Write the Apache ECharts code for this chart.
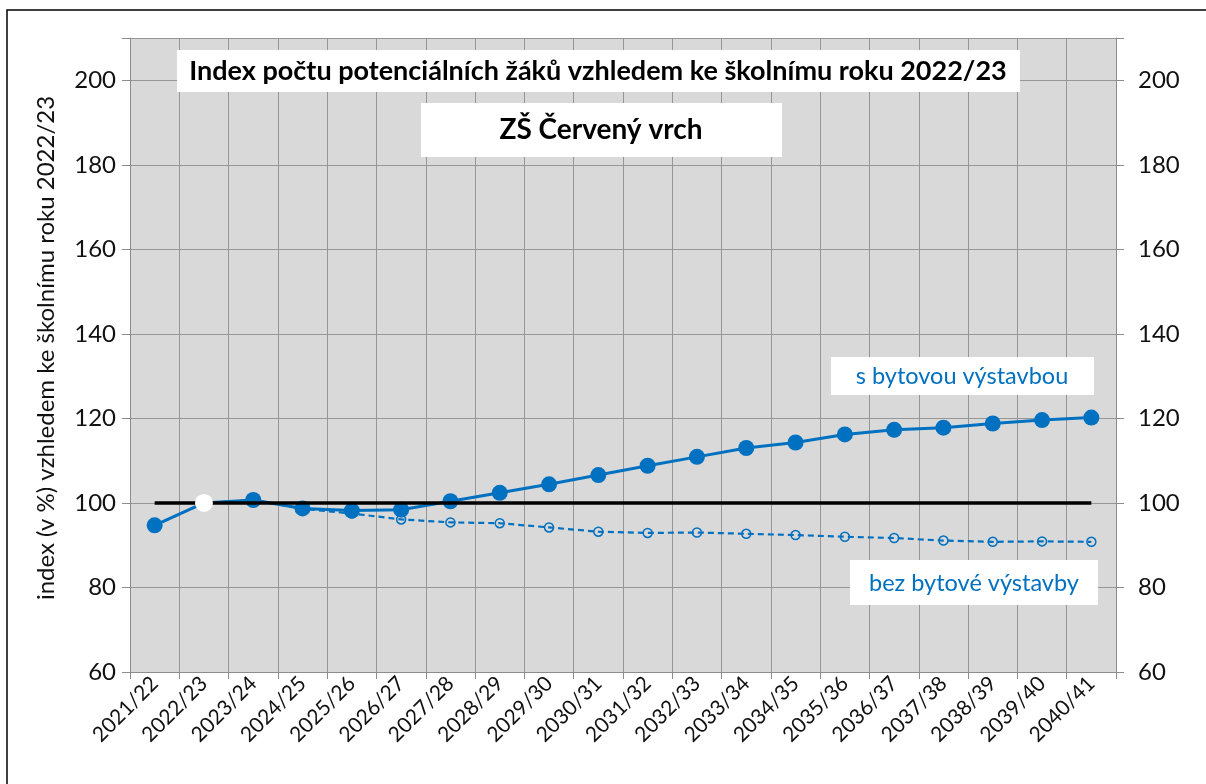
<!DOCTYPE html>
<html>
<head>
<meta charset="utf-8">
<script src="https://cdn.jsdelivr.net/npm/echarts@6/dist/echarts.min.js"></script>
<style>
html,body{margin:0;padding:0;background:#fff;}
#chart{width:1206px;height:784px;}
</style>
</head>
<body>
<div id="chart"></div>
<script>
// ---------------- data ----------------
var roky = ['2021/22','2022/23','2023/24','2024/25','2025/26','2026/27','2027/28','2028/29','2029/30','2030/31',
            '2031/32','2032/33','2033/34','2034/35','2035/36','2036/37','2037/38','2038/39','2039/40','2040/41'];
var sVystavbou = [94.7, 100, 100.7, 98.7, 98.2, 98.4, 100.4, 102.4, 104.4, 106.6,
                  108.8, 110.9, 113.0, 114.3, 116.2, 117.3, 117.8, 118.8, 119.6, 120.2];
var bezVystavby = [94.7, 100, 100.7, 98.6, 97.5, 96.1, 95.4, 95.2, 94.2, 93.2,
                   92.9, 93.0, 92.7, 92.4, 92.0, 91.7, 91.1, 90.8, 90.9, 90.8];
var zaklad = [100,100,100,100,100,100,100,100,100,100,100,100,100,100,100,100,100,100,100,100];
var bazovyRok = [['2022/23', 100]];

var modra = '#0070C0';
var font = 'Lato';

var dom = document.getElementById('chart');
var myChart = echarts.init(dom);

var yAxisBase = {
    type: 'value',
    min: 60,
    max: 210,
    interval: 20,
    axisLine: {show: true, lineStyle: {color: '#8c8c8c', width: 1}},
    axisTick: {show: true, length: 8, lineStyle: {color: '#8c8c8c'}},
    axisLabel: {
        fontFamily: font, fontSize: 24, color: '#111', margin: 14,
        formatter: function (v) { return v > 200 ? '' : v; }
    }
};

var option = {
    backgroundColor: '#fff',
    animation: false,
    grid: {
        left: 130, right: 90, top: 38, bottom: 112,
        show: true, backgroundColor: '#D9D9D9', borderWidth: 0
    },
    graphic: [
        // ramecek
        {type: 'rect', shape: {x: 7, y: 10, width: 1230, height: 800},
         style: {fill: 'none', stroke: '#000', lineWidth: 1.5}, silent: true},
        // nadpis
        {type: 'rect', shape: {x: 177, y: 50, width: 843, height: 42},
         style: {fill: '#fff'}, z: 10},
        {type: 'text', x: 598, y: 71, z: 11,
         style: {text: 'Index počtu potenciálních žáků vzhledem ke školnímu roku 2022/23',
                 fontFamily: font, fontWeight: 'bold', fontSize: 27, fill: '#000',
                 align: 'center', verticalAlign: 'middle'}},
        {type: 'rect', shape: {x: 421, y: 103, width: 361, height: 54},
         style: {fill: '#fff'}, z: 10},
        {type: 'text', x: 601, y: 130, z: 11,
         style: {text: 'ZŠ Červený vrch', fontFamily: font, fontWeight: 'bold', fontSize: 28,
                 fill: '#000', align: 'center', verticalAlign: 'middle'}},
        // popisky rad
        {type: 'rect', shape: {x: 831, y: 357, width: 263, height: 38},
         style: {fill: '#fff'}, z: 10},
        {type: 'text', x: 962, y: 376, z: 11,
         style: {text: 's bytovou výstavbou', fontFamily: font, fontSize: 23.5, fill: modra,
                 align: 'center', verticalAlign: 'middle'}},
        {type: 'rect', shape: {x: 850, y: 560, width: 248, height: 45},
         style: {fill: '#fff'}, z: 10},
        {type: 'text', x: 974, y: 583, z: 11,
         style: {text: 'bez bytové výstavby', fontFamily: font, fontSize: 23.5, fill: modra,
                 align: 'center', verticalAlign: 'middle'}}
    ],
    xAxis: {
        type: 'category',
        data: roky,
        boundaryGap: true,
        axisLine: {show: true, lineStyle: {color: '#8c8c8c', width: 1}},
        axisTick: {show: true, length: 7, lineStyle: {color: '#8c8c8c'}},
        splitLine: {show: true, lineStyle: {color: '#969696', width: 1}},
        axisLabel: {interval: 0, rotate: 45, fontFamily: font, fontSize: 21, color: '#111', margin: 8}
    },
    yAxis: [
        Object.assign({}, yAxisBase, {
            position: 'left',
            name: 'index (v %) vzhledem ke školnímu roku 2022/23',
            nameLocation: 'middle',
            nameGap: 72,
            nameTextStyle: {fontFamily: font, fontSize: 24, color: '#111', padding: [0, 0, 0, 14]},
            splitLine: {show: true, lineStyle: {color: '#969696', width: 1}}
        }),
        Object.assign({}, yAxisBase, {
            position: 'right',
            splitLine: {show: false},
            axisLabel: Object.assign({}, yAxisBase.axisLabel, {margin: 22})
        })
    ],
    series: [
        {
            name: 'bez bytové výstavby',
            type: 'line',
            data: bezVystavby,
            z: 2,
            symbol: 'circle',
            symbolSize: 9,
            itemStyle: {color: 'rgba(0,0,0,0)', borderColor: modra, borderWidth: 1.5},
            lineStyle: {color: modra, width: 2.2, type: [6, 4]}
        },
        {
            name: 's bytovou výstavbou',
            type: 'line',
            data: sVystavbou,
            z: 3,
            symbol: 'circle',
            symbolSize: 16,
            itemStyle: {color: modra},
            lineStyle: {color: modra, width: 3}
        },
        {
            name: 'základ',
            type: 'line',
            data: zaklad,
            z: 4,
            symbol: 'none',
            lineStyle: {color: '#000', width: 3.5}
        },
        {
            name: 'bazovy rok',
            type: 'scatter',
            data: bazovyRok,
            z: 5,
            symbolSize: 18,
            itemStyle: {color: '#fff', opacity: 1}
        }
    ]
};

if (option && typeof option === "object") {
    myChart.setOption(option, true);
}
</script>
</body>
</html>
